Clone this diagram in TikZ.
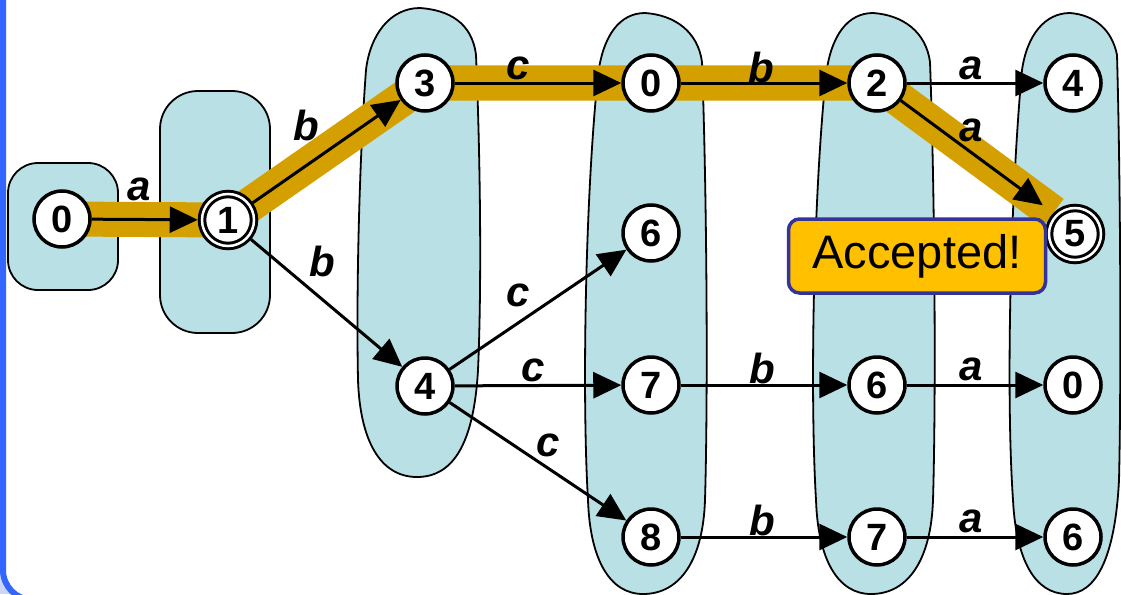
\documentclass[tikz,border=0pt]{standalone}
\usepackage{fontspec}
\setmainfont{Liberation Sans}
\usetikzlibrary{arrows.meta}
\definecolor{blobfill}{HTML}{B9E0E4}
\definecolor{goldc}{HTML}{D4A000}
\definecolor{accfill}{HTML}{FFC000}
\definecolor{accdraw}{HTML}{333399}
\definecolor{framec}{HTML}{3366FF}
\definecolor{outsidec}{HTML}{CCD6F6}
\pgfdeclarelayer{bg}
\pgfdeclarelayer{mid}
\pgfsetlayers{bg,mid,main}
\begin{document}
\begin{tikzpicture}[x=1pt,y=-1pt,
  st/.style={circle, draw=black, line width=3.5pt, fill=white, minimum size=56pt, inner sep=0pt,
    font=\fontsize{38}{42}\selectfont\bfseries},
  fin/.style={st, double=white, double distance=2.5pt, line width=3pt, minimum size=52pt, outer sep=4.25pt},
  lab/.style={inner sep=0pt, font=\fontsize{42}{46}\selectfont\bfseries\itshape},
  arr/.style={draw=black, line width=3pt, -{Triangle[length=28pt,width=26pt]}},
  blob/.style={fill=blobfill, draw=black, line width=1.8pt},
  band/.style={draw=goldc, line width=35pt, line join=round},
  accbox/.style={draw=accdraw, fill=accfill, line width=3.5pt, rounded corners=11pt,
    minimum width=257pt, minimum height=74pt, inner sep=0pt,
    font=\fontsize{47}{50}\selectfont}
]
\useasboundingbox (0,0) rectangle (1121,594);
\clip (0,0) rectangle (1121,594);

% states
\node[st]  (n0) at (62,219) {0};
\node[fin] (n1) at (228,220) {1};
\node[st]  (n3) at (425,83) {3};
\node[st]  (n4) at (425,386) {4};
\node[st]  (m0) at (651,83) {0};
\node[st]  (m6) at (651,233) {6};
\node[st]  (m7) at (651,385) {7};
\node[st]  (m8) at (651,537) {8};
\node[st]  (p2) at (877,83) {2};
\node[st]  (p6) at (877,385) {6};
\node[st]  (p7) at (877,537) {7};
\node[st]  (q4) at (1073,83) {4};
\node[fin] (q5) at (1075,234) {5};
\node[st]  (q0) at (1073,385) {0};
\node[st]  (q6) at (1073,537) {6};

\node[accbox] (acc) at (917,256) {Accepted!};

% labels
\node[lab] (l01) at (139,189) {a};
\node[lab] (l13) at (306,125) {b};
\node[lab] (l14) at (322,261) {b};
\node[lab] (l30) at (518,68) {c};
\node[lab] (l46) at (518,295) {c};
\node[lab] (l47) at (533,370) {c};
\node[lab] (l48) at (548,445) {c};
\node[lab] (l02) at (761,67) {b};
\node[lab] (l76) at (762,368) {b};
\node[lab] (l87) at (762,520) {b};
\node[lab] (l24) at (971,68) {a};
\node[lab] (l25) at (971,130) {a};
\node[lab] (l60) at (971,369) {a};
\node[lab] (l76b) at (971,521) {a};

\begin{pgfonlayer}{mid}
  \draw[band] (n0.center) -- (n1.center) -- (n3.center) -- (m0.center) -- (p2.center) -- (q5.136);
  \draw[arr] (n0) -- (n1);
  \draw[arr] (n1) -- (n3);
  \draw[arr] (n1) -- (n4);
  \draw[arr] (n3) -- (m0);
  \draw[arr] (n4) -- (m6);
  \draw[arr] (n4) -- (m7);
  \draw[arr] (n4) -- (m8);
  \draw[arr] (m0) -- (p2);
  \draw[arr] (m7) -- (p6);
  \draw[arr] (m8) -- (p7);
  \draw[arr] (p2) -- (q4);
  \draw[arr, shorten >=13pt] (p2) -- (q5.136);
  \draw[arr] (p6) -- (q0);
  \draw[arr] (p7) -- (q6);
\end{pgfonlayer}

\begin{pgfonlayer}{bg}
  \fill[outsidec] (0,0) rectangle (1121,594);
  \draw[framec, line width=6pt, fill=white, rounded corners=30pt]
    (3,-60) -- (3,600) -- (1200,600) -- (1200,-60) -- cycle;
  % blob around 0
  \draw[blob, rounded corners=30pt] (8,163) rectangle (118,290);
  % blob around 1
  \draw[blob, rounded corners=38pt] (160,91) rectangle (270,333);
  % blob around 3,4
  \draw[blob] (420,8)
    .. controls (448,10) and (472,22) .. (476,55)
    .. controls (480,150) and (482,280) .. (478,370)
    .. controls (474,440) and (455,477) .. (417,477)
    .. controls (380,477) and (360,440) .. (358,380)
    .. controls (356,280) and (360,150) .. (366,70)
    .. controls (370,35) and (390,8) .. (420,8) -- cycle;
  % blob column 4 and 5
  \foreach \dx in {0,228}{
  \draw[blob, shift={(\dx,0)}] (645,13)
    .. controls (675,15) and (698,32) .. (702,62)
    .. controls (707,200) and (708,400) .. (705,500)
    .. controls (703,560) and (680,594) .. (643,594)
    .. controls (610,594) and (590,560) .. (588,500)
    .. controls (582,400) and (585,200) .. (598,75)
    .. controls (603,35) and (620,13) .. (645,13) -- cycle;
  }
  % blob column 6
  \draw[blob] (1070,13)
    .. controls (1095,15) and (1112,30) .. (1117,55)
    .. controls (1121,200) and (1121,400) .. (1119,480)
    .. controls (1115,560) and (1095,594) .. (1067,594)
    .. controls (1035,594) and (1016,560) .. (1013,500)
    .. controls (1006,400) and (1010,200) .. (1022,70)
    .. controls (1027,35) and (1045,13) .. (1070,13) -- cycle;
\end{pgfonlayer}
\end{tikzpicture}
\end{document}
